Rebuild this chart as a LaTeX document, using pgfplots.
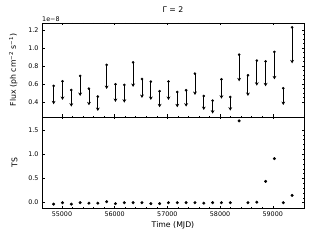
\documentclass[border=0pt]{standalone}
\usepackage{pgfplots}
\pgfplotsset{compat=1.18}
\usepackage{pgfplotstable}
\usepackage{fontspec}
\setmainfont{DejaVu Sans}
\usetikzlibrary{arrows.meta}
\pgfplotstableread{
t top bot ts
54842 0.581 0.378 -0.03
55010 0.632 0.426 0.00
55177 0.536 0.352 -0.03
55345 0.691 0.470 0.00
55512 0.551 0.367 -0.01
55680 0.463 0.304 -0.01
55848 0.813 0.547 0.02
56015 0.599 0.404 -0.02
56183 0.592 0.396 0.00
56350 0.842 0.570 0.00
56518 0.658 0.448 0.00
56686 0.629 0.426 -0.02
56853 0.522 0.345 -0.02
57021 0.629 0.426 0.00
57188 0.514 0.345 0.00
57356 0.533 0.352 0.00
57524 0.717 0.481 0.00
57691 0.470 0.315 -0.01
57859 0.418 0.275 0.00
58026 0.654 0.440 0.00
58194 0.459 0.308 0.00
58362 0.927 0.632 1.69
58529 0.699 0.470 0.00
58697 0.861 0.584 0.01
58864 0.853 0.577 0.44
59032 0.957 0.654 0.91
59200 0.555 0.370 0.00
59367 1.229 0.831 0.15
}\data
\begin{document}
\begin{tikzpicture}
\useasboundingbox (0bp,0bp) rectangle (320bp,240bp);
\pgfplotsset{
  every axis/.style={
    scale only axis, width=262bp,
    xmin=54621, xmax=59593,
    tick align=inside, xtick pos=both, ytick pos=both,
    major tick length=2.5bp, minor tick length=1.4bp,
    tick style={line width=0.5bp, black},
    axis line style={line width=0.6bp},
    xtick={55000,56000,57000,58000,59000},
    minor x tick num=4,
    scaled x ticks=false, scaled y ticks=false,
    /pgf/number format/assume math mode=true,
    /pgf/number format/set thousands separator={},
    ticklabel style={font=\fontsize{6.4}{7}\selectfont},
    label style={font=\fontsize{7.8}{9}\selectfont},
  }
}
\begin{axis}[
  at={(42bp,123bp)}, anchor=south west, height=94bp,
  ymin=0.237, ymax=1.277,
  ytick={0.4,0.6,0.8,1.0,1.2}, minor y tick num=3,
  yticklabel style={/pgf/number format/fixed, /pgf/number format/fixed zerofill, /pgf/number format/precision=1},
  xticklabels={},
  ylabel={Flux (ph cm\textsuperscript{−2} s\textsuperscript{−1})},
  ylabel style={at={(axis description cs:-0.08,0.5)}, anchor=south},
  title={Γ = 2}, title style={font=\fontsize{7.8}{9}\selectfont, at={(axis description cs:0.5,1.0)}, anchor=south, yshift=1bp},
]
\addplot[black, line width=0.9bp, -{Stealth[length=3.4bp,width=3.8bp]},
  quiver={u=0, v={\thisrow{bot}-\thisrow{top}}}] table[x=t,y=top] {\data};
\addplot[only marks, mark=*, mark size=1.1bp, black] table[x=t,y=top] {\data};
\end{axis}
\node[font=\fontsize{6.4}{7}\selectfont, anchor=south west, inner sep=0] at (42bp,218bp) {1e−8};
\begin{axis}[
  at={(42bp,32bp)}, anchor=south west, height=91bp,
  ymin=-0.11, ymax=1.77,
  ytick={0,0.5,1.0,1.5}, minor y tick num=4,
  yticklabel style={/pgf/number format/fixed, /pgf/number format/fixed zerofill, /pgf/number format/precision=1},
  xticklabel style={/pgf/number format/fixed},
  xlabel={Time (MJD)},
  ylabel={TS},
  ylabel style={at={(axis description cs:-0.08,0.5)}, anchor=south},
  xlabel style={at={(axis description cs:0.5,-0.115)}, anchor=north},
]
\addplot[only marks, mark=*, mark size=1.3bp, black] table[x=t,y=ts] {\data};
\end{axis}
\end{tikzpicture}
\end{document}
